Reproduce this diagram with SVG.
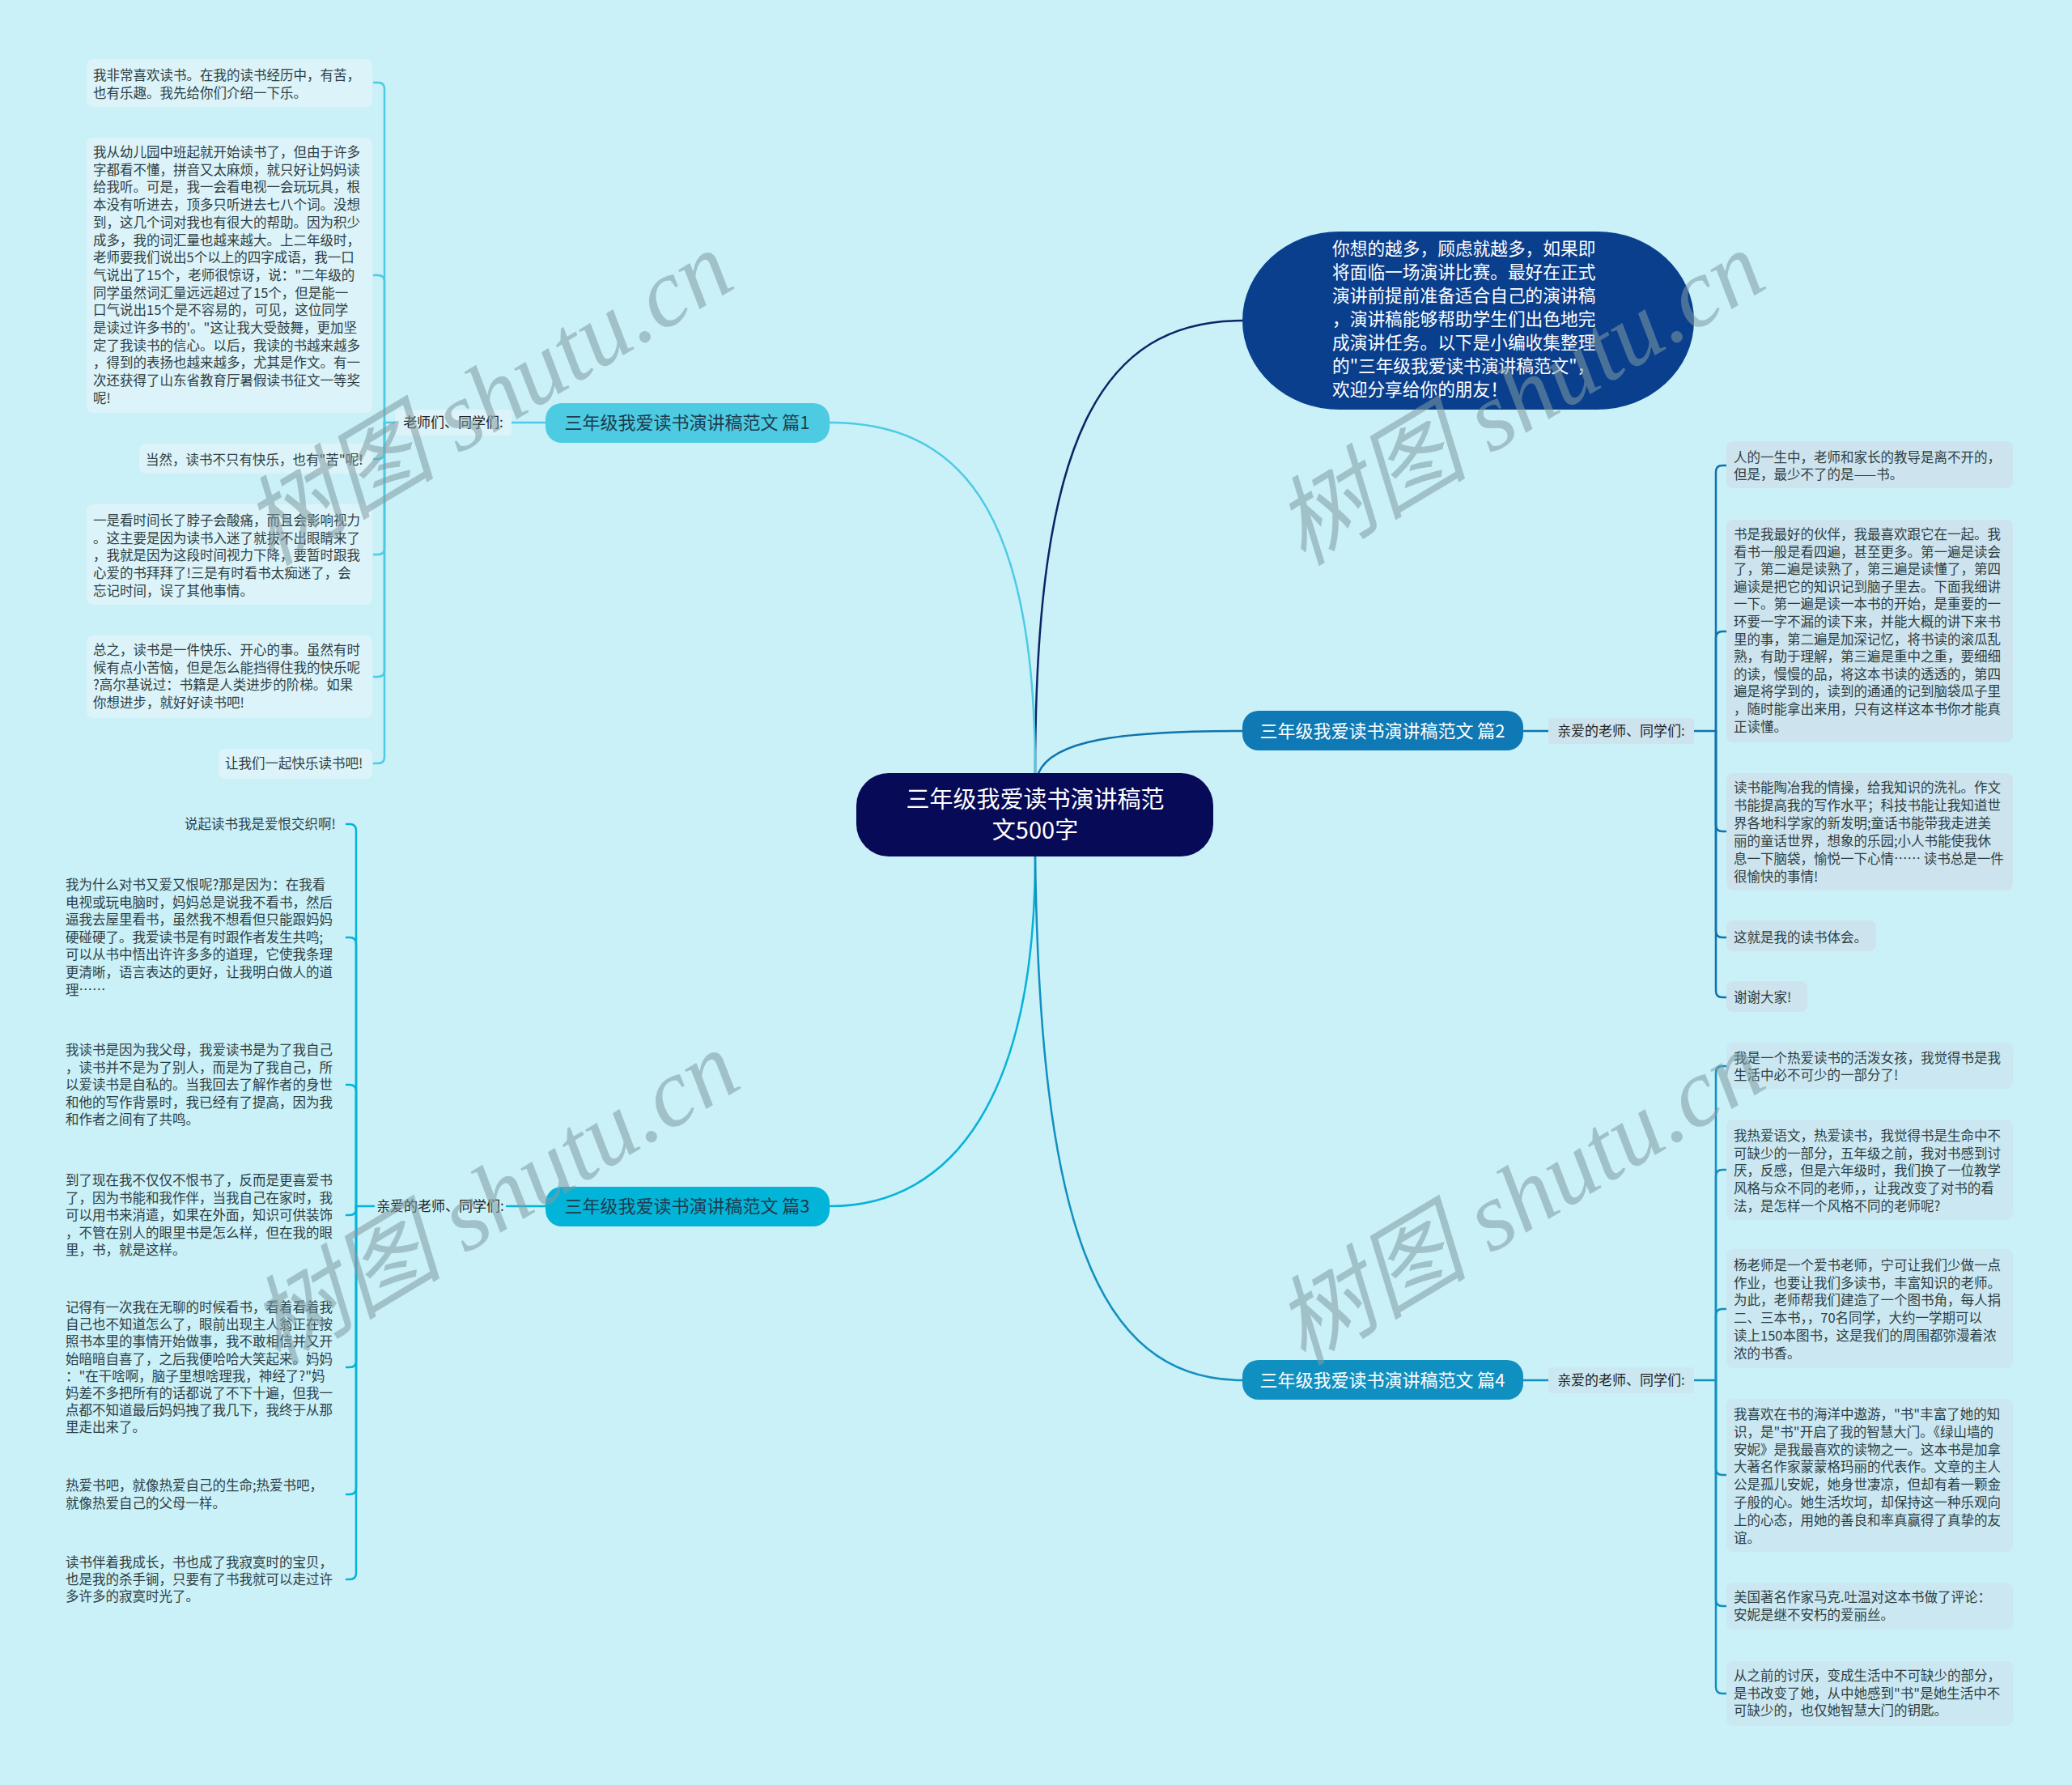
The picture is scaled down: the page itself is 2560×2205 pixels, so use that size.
<svg xmlns="http://www.w3.org/2000/svg" width="2560" height="2205" viewBox="0 0 2560 2205">
<style>
.t{font-family:"Noto Sans CJK SC","Liberation Sans",sans-serif;font-size:16.5px;fill:#2d3e44}
.lbl{font-family:"Noto Sans CJK SC","Liberation Sans",sans-serif;font-size:17px;fill:#222;text-anchor:middle}
.br{font-family:"Noto Sans CJK SC","Liberation Sans",sans-serif;font-size:22px;text-anchor:middle}
.wm{font-family:"Liberation Serif","Noto Sans CJK SC",serif;font-style:italic;font-size:120px;fill:#809ca3;opacity:0.55}
.c{fill:none;stroke-width:2.5;stroke-linecap:round}
.b1{fill:#dcf3f9}.b2{fill:#cde4ee}.b4{fill:#cbe8f2}
</style>
<rect width="2560" height="2205" fill="#caf0f8"/>
<g id="connectors">
<path class="c" stroke="#0c2466" d="M1279 955 C1279 540 1360 396 1535 396"/>
<path class="c" stroke="#4ccbe3" d="M1025 522 C1180 522 1279 620 1279 955"/>
<path class="c" stroke="#0e74ad" d="M1283 955 C1300 915 1380 903 1535 903"/>
<path class="c" stroke="#06b3d8" d="M1279 1058 C1279 1350 1180 1490 1025 1490"/>
<path class="c" stroke="#1190c0" d="M1279 1058 C1285 1500 1350 1705 1535 1705"/>
<g stroke="#4ccbe3" class="c">
<path d="M674 522 H632 M488 522 H475"/>
<path d="M475 522 V110 Q475 102 467 102 H462"/>
<path d="M475 522 V348 Q475 340 467 340 H462"/>
<path d="M475 522 V559 Q475 567 467 567 H462"/>
<path d="M475 522 V677 Q475 685 467 685 H462"/>
<path d="M475 522 V828 Q475 836 467 836 H462"/>
<path d="M475 522 V935 Q475 943 467 943 H462"/>
</g>
<g stroke="#06b3d8" class="c">
<path d="M674 1490 H626 M462 1490 H440"/>
<path d="M440 1490 V1026 Q440 1018 432 1018 H428"/>
<path d="M440 1490 V1166 Q440 1158 432 1158 H428"/>
<path d="M440 1490 V1348 Q440 1340 432 1340 H428"/>
<path d="M440 1490 V1493 Q440 1501 432 1501 H428"/>
<path d="M440 1490 V1681 Q440 1689 432 1689 H428"/>
<path d="M440 1490 V1838 Q440 1846 432 1846 H428"/>
<path d="M440 1490 V1943 Q440 1951 432 1951 H428"/>
</g>
<g stroke="#0e74ad" class="c">
<path d="M1882 903 H1913 M2093 903 H2120"/>
<path d="M2120 903 V583 Q2120 575 2128 575 H2133"/>
<path d="M2120 903 V788 Q2120 780 2128 780 H2133"/>
<path d="M2120 903 V1019 Q2120 1027 2128 1027 H2133"/>
<path d="M2120 903 V1150 Q2120 1158 2128 1158 H2133"/>
<path d="M2120 903 V1224 Q2120 1232 2128 1232 H2133"/>
</g>
<g stroke="#1190c0" class="c">
<path d="M1882 1705 H1913 M2093 1705 H2120"/>
<path d="M2120 1705 V1325 Q2120 1317 2128 1317 H2133"/>
<path d="M2120 1705 V1453 Q2120 1445 2128 1445 H2133"/>
<path d="M2120 1705 V1625 Q2120 1617 2128 1617 H2133"/>
<path d="M2120 1705 V1814 Q2120 1822 2128 1822 H2133"/>
<path d="M2120 1705 V1976 Q2120 1984 2128 1984 H2133"/>
<path d="M2120 1705 V2084 Q2120 2092 2128 2092 H2133"/>
</g>
</g>
<g id="center">
<rect x="1058" y="955" width="441" height="103" rx="40" fill="#070a56"/>
<text class="br" x="1279" y="998" style="font-size:29px;fill:#fff">三年级我爱读书演讲稿范</text>
<text class="br" x="1279" y="1036" style="font-size:29px;fill:#fff">文500字</text>
</g>
<g id="intro">
<rect x="1535" y="286" width="558" height="220" rx="120" ry="110" fill="#0a3f8e"/>
<text x="1646" y="315" style="font-family:'Noto Sans CJK SC',sans-serif;font-size:21.7px;fill:#fff"><tspan x="1646">你想的越多，顾虑就越多，如果即</tspan><tspan x="1646" dy="29">将面临一场演讲比赛。最好在正式</tspan><tspan x="1646" dy="29">演讲前提前准备适合自己的演讲稿</tspan><tspan x="1646" dy="29">，演讲稿能够帮助学生们出色地完</tspan><tspan x="1646" dy="29">成演讲任务。以下是小编收集整理</tspan><tspan x="1646" dy="29">的"三年级我爱读书演讲稿范文"，</tspan><tspan x="1646" dy="29">欢迎分享给你的朋友！</tspan></text>
</g>
<g id="p1">
<rect x="674" y="498" width="351" height="49" rx="20" fill="#4ccbe3"/>
<text class="br" x="849" y="530" style="fill:#1f3b4d">三年级我爱读书演讲稿范文 篇1</text>
</g>
<g id="p2">
<rect x="1535" y="878" width="347" height="49" rx="20" fill="#0e79b4"/>
<text class="br" x="1708" y="911" style="fill:#fff">三年级我爱读书演讲稿范文 篇2</text>
</g>
<g id="p3">
<rect x="674" y="1466" width="351" height="49" rx="20" fill="#03b4d9"/>
<text class="br" x="849" y="1498" style="fill:#1f3b4d">三年级我爱读书演讲稿范文 篇3</text>
</g>
<g id="p4">
<rect x="1535" y="1680" width="347" height="49" rx="20" fill="#1090c0"/>
<text class="br" x="1708" y="1713" style="fill:#fff">三年级我爱读书演讲稿范文 篇4</text>
</g>
<g id="p1-label"><rect class="b1" x="488" y="506" width="144" height="32" rx="4"/><text class="lbl" x="560" y="528">老师们、同学们:</text></g>
<g id="p2-label"><rect class="b2" x="1913" y="887" width="180" height="32" rx="4"/><text class="lbl" x="2003" y="909">亲爱的老师、同学们:</text></g>
<g id="p3-label"><text class="lbl" x="544" y="1496">亲爱的老师、同学们:</text></g>
<g id="p4-label"><rect class="b4" x="1913" y="1689" width="180" height="32" rx="4"/><text class="lbl" x="2003" y="1711">亲爱的老师、同学们:</text></g>
<g id="p1-leaves">
<rect class="b1" x="107" y="73" width="353" height="59" rx="8"/>
<text class="t" x="115" y="99"><tspan x="115">我非常喜欢读书。在我的读书经历中，有苦，</tspan><tspan x="115" dy="21.7">也有乐趣。我先给你们介绍一下乐。</tspan></text>
<rect class="b1" x="107" y="170" width="353" height="340" rx="8"/>
<text class="t" x="115" y="194"><tspan x="115">我从幼儿园中班起就开始读书了，但由于许多</tspan><tspan x="115" dy="21.7">字都看不懂，拼音又太麻烦，就只好让妈妈读</tspan><tspan x="115" dy="21.7">给我听。可是，我一会看电视一会玩玩具，根</tspan><tspan x="115" dy="21.7">本没有听进去，顶多只听进去七八个词。没想</tspan><tspan x="115" dy="21.7">到，这几个词对我也有很大的帮助。因为积少</tspan><tspan x="115" dy="21.7">成多，我的词汇量也越来越大。上二年级时，</tspan><tspan x="115" dy="21.7">老师要我们说出5个以上的四字成语，我一口</tspan><tspan x="115" dy="21.7">气说出了15个，老师很惊讶，说："二年级的</tspan><tspan x="115" dy="21.7">同学虽然词汇量远远超过了15个，但是能一</tspan><tspan x="115" dy="21.7">口气说出15个是不容易的，可见，这位同学</tspan><tspan x="115" dy="21.7">是读过许多书的'。"这让我大受鼓舞，更加坚</tspan><tspan x="115" dy="21.7">定了我读书的信心。以后，我读的书越来越多</tspan><tspan x="115" dy="21.7">，得到的表扬也越来越多，尤其是作文。有一</tspan><tspan x="115" dy="21.7">次还获得了山东省教育厅暑假读书征文一等奖</tspan><tspan x="115" dy="21.7">呢!</tspan></text>
<rect class="b1" x="172" y="548" width="288" height="37" rx="8"/>
<text class="t" x="180" y="574">当然，读书不只有快乐，也有"苦"呢!</text>
<rect class="b1" x="107" y="623" width="353" height="124" rx="8"/>
<text class="t" x="115" y="649"><tspan x="115">一是看时间长了脖子会酸痛，而且会影响视力</tspan><tspan x="115" dy="21.7">。这主要是因为读书入迷了就拔不出眼睛来了</tspan><tspan x="115" dy="21.7">，我就是因为这段时间视力下降，要暂时跟我</tspan><tspan x="115" dy="21.7">心爱的书拜拜了!三是有时看书太痴迷了，会</tspan><tspan x="115" dy="21.7">忘记时间，误了其他事情。</tspan></text>
<rect class="b1" x="107" y="785" width="353" height="102" rx="8"/>
<text class="t" x="115" y="809"><tspan x="115">总之，读书是一件快乐、开心的事。虽然有时</tspan><tspan x="115" dy="21.7">候有点小苦恼，但是怎么能挡得住我的快乐呢</tspan><tspan x="115" dy="21.7">?高尔基说过：书籍是人类进步的阶梯。如果</tspan><tspan x="115" dy="21.7">你想进步，就好好读书吧!</tspan></text>
<rect class="b1" x="270" y="925" width="190" height="37" rx="8"/>
<text class="t" x="278" y="949">让我们一起快乐读书吧!</text>
</g>
<g id="p3-leaves">
<text class="t" x="228" y="1024">说起读书我是爱恨交织啊!</text>
<text class="t" x="81" y="1099"><tspan x="81">我为什么对书又爱又恨呢?那是因为：在我看</tspan><tspan x="81" dy="21.6">电视或玩电脑时，妈妈总是说我不看书，然后</tspan><tspan x="81" dy="21.6">逼我去屋里看书，虽然我不想看但只能跟妈妈</tspan><tspan x="81" dy="21.6">硬碰硬了。我爱读书是有时跟作者发生共鸣;</tspan><tspan x="81" dy="21.6">可以从书中悟出许许多多的道理，它使我条理</tspan><tspan x="81" dy="21.6">更清晰，语言表达的更好，让我明白做人的道</tspan><tspan x="81" dy="21.6">理……</tspan></text>
<text class="t" x="81" y="1303"><tspan x="81">我读书是因为我父母，我爱读书是为了我自己</tspan><tspan x="81" dy="21.6">，读书并不是为了别人，而是为了我自己，所</tspan><tspan x="81" dy="21.6">以爱读书是自私的。当我回去了解作者的身世</tspan><tspan x="81" dy="21.6">和他的写作背景时，我已经有了提高，因为我</tspan><tspan x="81" dy="21.6">和作者之间有了共鸣。</tspan></text>
<text class="t" x="81" y="1464"><tspan x="81">到了现在我不仅仅不恨书了，反而是更喜爱书</tspan><tspan x="81" dy="21.6">了，因为书能和我作伴，当我自己在家时，我</tspan><tspan x="81" dy="21.6">可以用书来消遣，如果在外面，知识可供装饰</tspan><tspan x="81" dy="21.6">，不管在别人的眼里书是怎么样，但在我的眼</tspan><tspan x="81" dy="21.6">里，书，就是这样。</tspan></text>
<text class="t" x="81" y="1621"><tspan x="81">记得有一次我在无聊的时候看书，看着看着我</tspan><tspan x="81" dy="21.2">自己也不知道怎么了，眼前出现主人翁正在按</tspan><tspan x="81" dy="21.2">照书本里的事情开始做事，我不敢相信并又开</tspan><tspan x="81" dy="21.2">始暗暗自喜了，之后我便哈哈大笑起来。妈妈</tspan><tspan x="81" dy="21.2">："在干啥啊，脑子里想啥理我，神经了?"妈</tspan><tspan x="81" dy="21.2">妈差不多把所有的话都说了不下十遍，但我一</tspan><tspan x="81" dy="21.2">点都不知道最后妈妈拽了我几下，我终于从那</tspan><tspan x="81" dy="21.2">里走出来了。</tspan></text>
<text class="t" x="81" y="1841"><tspan x="81">热爱书吧，就像热爱自己的生命;热爱书吧，</tspan><tspan x="81" dy="21.6">就像热爱自己的父母一样。</tspan></text>
<text class="t" x="81" y="1936"><tspan x="81">读书伴着我成长，书也成了我寂寞时的宝贝，</tspan><tspan x="81" dy="21.2">也是我的杀手锏，只要有了书我就可以走过许</tspan><tspan x="81" dy="21.2">多许多的寂寞时光了。</tspan></text>
</g>
<g id="p2-leaves">
<rect class="b2" x="2133" y="545" width="354" height="58" rx="8"/>
<text class="t" x="2142" y="571"><tspan x="2142">人的一生中，老师和家长的教导是离不开的，</tspan><tspan x="2142" dy="21.2">但是，最少不了的是——书。</tspan></text>
<rect class="b2" x="2133" y="642" width="354" height="275" rx="8"/>
<text class="t" x="2142" y="666"><tspan x="2142">书是我最好的伙伴，我最喜欢跟它在一起。我</tspan><tspan x="2142" dy="21.6">看书一般是看四遍，甚至更多。第一遍是读会</tspan><tspan x="2142" dy="21.6">了，第二遍是读熟了，第三遍是读懂了，第四</tspan><tspan x="2142" dy="21.6">遍读是把它的知识记到脑子里去。下面我细讲</tspan><tspan x="2142" dy="21.6">一下。第一遍是读一本书的开始，是重要的一</tspan><tspan x="2142" dy="21.6">环要一字不漏的读下来，并能大概的讲下来书</tspan><tspan x="2142" dy="21.6">里的事，第二遍是加深记忆，将书读的滚瓜乱</tspan><tspan x="2142" dy="21.6">熟，有助于理解，第三遍是重中之重，要细细</tspan><tspan x="2142" dy="21.6">的读，慢慢的品，将这本书读的透透的，第四</tspan><tspan x="2142" dy="21.6">遍是将学到的，读到的通通的记到脑袋瓜子里</tspan><tspan x="2142" dy="21.6">，随时能拿出来用，只有这样这本书你才能真</tspan><tspan x="2142" dy="21.6">正读懂。</tspan></text>
<rect class="b2" x="2133" y="955" width="354" height="145" rx="8"/>
<text class="t" x="2142" y="979"><tspan x="2142">读书能陶冶我的情操，给我知识的洗礼。作文</tspan><tspan x="2142" dy="22">书能提高我的写作水平；科技书能让我知道世</tspan><tspan x="2142" dy="22">界各地科学家的新发明;童话书能带我走进美</tspan><tspan x="2142" dy="22">丽的童话世界，想象的乐园;小人书能使我休</tspan><tspan x="2142" dy="22">息一下脑袋，愉悦一下心情…… 读书总是一件</tspan><tspan x="2142" dy="22">很愉快的事情!</tspan></text>
<rect class="b2" x="2133" y="1137" width="185" height="38" rx="8"/>
<text class="t" x="2142" y="1164">这就是我的读书体会。</text>
<rect class="b2" x="2133" y="1212" width="100" height="38" rx="8"/>
<text class="t" x="2142" y="1238">谢谢大家!</text>
</g>
<g id="p4-leaves">
<rect class="b4" x="2133" y="1288" width="354" height="57" rx="8"/>
<text class="t" x="2142" y="1313"><tspan x="2142">我是一个热爱读书的活泼女孩，我觉得书是我</tspan><tspan x="2142" dy="21.4">生活中必不可少的一部分了!</tspan></text>
<rect class="b4" x="2133" y="1383" width="354" height="124" rx="8"/>
<text class="t" x="2142" y="1409"><tspan x="2142">我热爱语文，热爱读书，我觉得书是生命中不</tspan><tspan x="2142" dy="21.7">可缺少的一部分，五年级之前，我对书感到讨</tspan><tspan x="2142" dy="21.7">厌，反感，但是六年级时，我们换了一位教学</tspan><tspan x="2142" dy="21.7">风格与众不同的老师，，让我改变了对书的看</tspan><tspan x="2142" dy="21.7">法，是怎样一个风格不同的老师呢?</tspan></text>
<rect class="b4" x="2133" y="1543" width="354" height="147" rx="8"/>
<text class="t" x="2142" y="1569"><tspan x="2142">杨老师是一个爱书老师，宁可让我们少做一点</tspan><tspan x="2142" dy="21.7">作业，也要让我们多读书，丰富知识的老师。</tspan><tspan x="2142" dy="21.7">为此，老师帮我们建造了一个图书角，每人捐</tspan><tspan x="2142" dy="21.7">二、三本书，，70名同学，大约一学期可以</tspan><tspan x="2142" dy="21.7">读上150本图书，这是我们的周围都弥漫着浓</tspan><tspan x="2142" dy="21.7">浓的书香。</tspan></text>
<rect class="b4" x="2133" y="1728" width="354" height="189" rx="8"/>
<text class="t" x="2142" y="1753"><tspan x="2142">我喜欢在书的海洋中遨游，"书"丰富了她的知</tspan><tspan x="2142" dy="21.8">识，是"书"开启了我的智慧大门。《绿山墙的</tspan><tspan x="2142" dy="21.8">安妮》是我最喜欢的读物之一。这本书是加拿</tspan><tspan x="2142" dy="21.8">大著名作家蒙蒙格玛丽的代表作。文章的主人</tspan><tspan x="2142" dy="21.8">公是孤儿安妮，她身世凄凉，但却有着一颗金</tspan><tspan x="2142" dy="21.8">子般的心。她生活坎坷，却保持这一种乐观向</tspan><tspan x="2142" dy="21.8">上的心态，用她的善良和率真赢得了真挚的友</tspan><tspan x="2142" dy="21.8">谊。</tspan></text>
<rect class="b4" x="2133" y="1955" width="354" height="58" rx="8"/>
<text class="t" x="2142" y="1979"><tspan x="2142">美国著名作家马克.吐温对这本书做了评论：</tspan><tspan x="2142" dy="21.7">安妮是继不安朽的爱丽丝。</tspan></text>
<rect class="b4" x="2133" y="2052" width="354" height="80" rx="8"/>
<text class="t" x="2142" y="2076"><tspan x="2142">从之前的讨厌，变成生活中不可缺少的部分，</tspan><tspan x="2142" dy="21.6">是书改变了她，从中她感到"书"是她生活中不</tspan><tspan x="2142" dy="21.6">可缺少的，也仅她智慧大门的钥匙。</tspan></text>
</g>
<g id="watermarks">
<text class="wm" transform="translate(335,700) rotate(-31)">树图 shutu.cn</text>
<text class="wm" transform="translate(1610,700) rotate(-31)">树图 shutu.cn</text>
<text class="wm" transform="translate(343,1688) rotate(-31)">树图 shutu.cn</text>
<text class="wm" transform="translate(1610,1688) rotate(-31)">树图 shutu.cn</text>
</g>
</svg>
